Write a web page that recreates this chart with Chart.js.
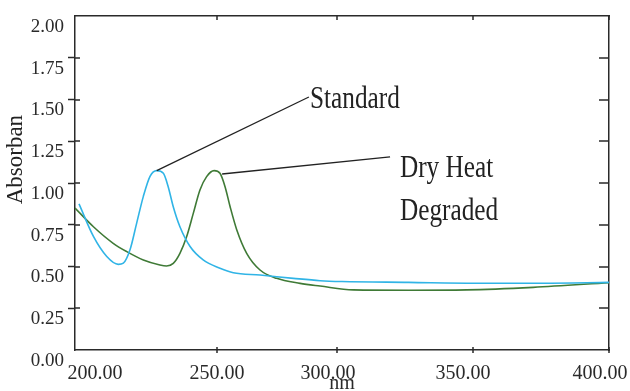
<!DOCTYPE html>
<html>
<head>
<meta charset="utf-8">
<script src="https://cdn.jsdelivr.net/npm/chart.js@4.4.1/dist/chart.umd.min.js"></script>
<style>
  body { margin: 0; background: #fff; }
  #wrap { width: 630px; height: 391px; }
</style>
</head>
<body>
<div id="wrap"><canvas id="spec"></canvas></div>
<script>
// Standard curve (nm, absorbance)
const stdX = [201.5, 206.9, 211.9, 216.2, 218.1, 220.6, 223.1, 225.6, 228.1, 230.6, 233.1, 234.9, 236.8, 239.3, 243.1, 248.0, 254.3, 259.3, 269.3, 281.8, 291.8, 300, 325, 350, 375, 400];
const stdY = [0.875, 0.68, 0.56, 0.513, 0.52, 0.60, 0.76, 0.92, 1.04, 1.074, 1.058, 0.978, 0.858, 0.738, 0.62, 0.54, 0.49, 0.463, 0.449, 0.429, 0.415, 0.41, 0.405, 0.40, 0.40, 0.405];

// Dry heat degraded curve
const dryX = [200, 206.9, 214.3, 219.4, 225.6, 231.8, 234.3, 236.8, 239.3, 241.8, 244.3, 246.8, 249.3, 252.1, 254.3, 256.2, 258.1, 260.6, 264.3, 269.3, 275.5, 284.3, 291.8, 304.2, 325, 346.7, 371.6, 400];
const dryY = [0.85, 0.738, 0.639, 0.589, 0.539, 0.509, 0.503, 0.519, 0.579, 0.678, 0.818, 0.958, 1.038, 1.074, 1.058, 0.978, 0.858, 0.719, 0.579, 0.479, 0.429, 0.399, 0.383, 0.36, 0.358, 0.36, 0.375, 0.403];

// x axis: printed labels, where they sit, and where the tick marks are
const xTickLabels = ["200.00", "250.00", "300.00", "350.00", "400.00"];
const xLabelAt = [207.5, 253.2, 294.8, 345.3, 396.6];
const xMarkAt = [253.2, 298.1, 349.1, 400];

// callouts: [text lines, anchor on curve, line end, text position]
const callouts = [
  { lines: ["Standard"], from: [230.6, 1.074], to: [287.6, 1.515], text: [288.0, 1.449] },
  { lines: ["Dry Heat", "Degraded"], from: [255.1, 1.054], to: [318.0, 1.156], text: [321.7, 1.036] },
];

const yTitle = "Absorban";
const xTitle = "nm";

const ink = "#2a2a2a";
const serif = "'Liberation Serif', 'Times New Roman', serif";

function pts(xs, ys) {
  return xs.map((x, i) => ({ x: x, y: ys[i] }));
}

const framePlugin = {
  id: "frame",
  afterDraw(chart) {
    const ctx = chart.ctx;
    const a = chart.chartArea;
    const x = chart.scales.x;
    const y = chart.scales.y;
    ctx.save();
    ctx.strokeStyle = ink;
    ctx.lineWidth = 1.5;
    ctx.beginPath();
    xMarkAt.forEach((v) => {
      const px = Math.round(x.getPixelForValue(v));
      ctx.moveTo(px, a.top);
      ctx.lineTo(px, a.top + 4);
      ctx.moveTo(px, a.bottom - 3);
      ctx.lineTo(px, a.bottom + 3);
    });
    y.ticks.forEach((t) => {
      if (t.value <= 0 || t.value >= 2) return;
      const py = Math.round(y.getPixelForValue(t.value));
      ctx.moveTo(a.right - 10, py);
      ctx.lineTo(a.right, py);
      ctx.moveTo(a.left, py);
      ctx.lineTo(a.left + 5, py);
    });
    ctx.stroke();

    // callouts
    ctx.lineWidth = 1.3;
    ctx.strokeStyle = "#222";
    ctx.fillStyle = "#222";
    ctx.font = "32px " + serif;
    ctx.textBaseline = "alphabetic";
    callouts.forEach((c) => {
      ctx.beginPath();
      ctx.moveTo(x.getPixelForValue(c.from[0]), y.getPixelForValue(c.from[1]));
      ctx.lineTo(x.getPixelForValue(c.to[0]), y.getPixelForValue(c.to[1]));
      ctx.stroke();
      const tx = x.getPixelForValue(c.text[0]);
      const ty = y.getPixelForValue(c.text[1]);
      c.lines.forEach((s, i) => {
        ctx.save();
        ctx.translate(tx, ty + i * 43);
        ctx.scale(0.79, 1);
        ctx.fillText(s, 0, 0);
        ctx.restore();
      });
    });

    // y axis title
    ctx.save();
    ctx.translate(a.left - 59, y.getPixelForValue(1.14));
    ctx.rotate(-Math.PI / 2);
    ctx.font = "23px " + serif;
    ctx.textAlign = "center";
    ctx.textBaseline = "middle";
    ctx.fillText(yTitle, 0, 0);
    ctx.restore();
    ctx.restore();
  },
};

new Chart(document.getElementById("spec"), {
  type: "line",
  data: {
    datasets: [
      {
        label: "Standard",
        data: pts(stdX, stdY),
        borderColor: "#30b4e6",
        borderWidth: 1.6,
        pointRadius: 0,
        cubicInterpolationMode: "monotone",
        fill: false,
      },
      {
        label: "Dry Heat Degraded",
        data: pts(dryX, dryY),
        borderColor: "#3f7a36",
        borderWidth: 1.6,
        pointRadius: 0,
        cubicInterpolationMode: "monotone",
        fill: false,
      },
    ],
  },
  options: {
    responsive: true,
    maintainAspectRatio: false,
    animation: false,
    layout: { padding: 0 },
    plugins: {
      legend: { display: false },
      tooltip: { enabled: false },
    },
    scales: {
      x: {
        type: "linear",
        position: "bottom",
        min: 200,
        max: 400,
        afterBuildTicks: (scale) => {
          scale.ticks = xLabelAt.map((v) => ({ value: v }));
        },
        afterFit: (scale) => {
          scale.height = 41;
          scale.paddingLeft = 0;
          scale.paddingRight = 0;
        },
        ticks: {
          autoSkip: false,
          maxRotation: 0,
          padding: 12,
          color: ink,
          font: { family: serif, size: 20 },
          callback: (val, i) => xTickLabels[i],
        },
        grid: { display: true, drawOnChartArea: false, drawTicks: false },
        border: { display: true, color: ink, width: 1.5 },
        title: {
          display: true,
          text: xTitle,
          color: ink,
          font: { family: serif, size: 20 },
          padding: { top: 0, bottom: -5 },
        },
      },
      x2: {
        type: "linear",
        position: "top",
        min: 200,
        max: 400,
        afterBuildTicks: (scale) => {
          scale.ticks = xMarkAt.map((v) => ({ value: v }));
        },
        afterFit: (scale) => {
          scale.height = 16;
          scale.paddingLeft = 0;
          scale.paddingRight = 0;
        },
        ticks: { display: false },
        grid: { display: true, drawOnChartArea: false, drawTicks: false },
        border: { display: true, color: ink, width: 1.5 },
      },
      y: {
        type: "linear",
        position: "left",
        min: 0,
        max: 2,
        afterFit: (scale) => {
          scale.width = 75;
          scale.paddingTop = 0;
          scale.paddingBottom = 0;
        },
        ticks: {
          stepSize: 0.25,
          padding: 4,
          labelOffset: 11,
          color: ink,
          font: { family: serif, size: 19 },
          callback: (v) => v.toFixed(2),
        },
        grid: {
          drawOnChartArea: false,
          tickLength: 7,
          tickWidth: 1.5,
          tickColor: (c) =>
            c.tick && (c.tick.value <= 0 || c.tick.value >= 2) ? "rgba(0,0,0,0)" : ink,
        },
        border: { display: true, color: ink, width: 1.5 },
      },
      y2: {
        type: "linear",
        position: "right",
        min: 0,
        max: 2,
        afterFit: (scale) => {
          scale.width = 21;
        },
        ticks: { display: false, stepSize: 0.25 },
        grid: { display: true, drawOnChartArea: false, drawTicks: false },
        border: { display: true, color: ink, width: 1.5 },
      },
    },
  },
  plugins: [framePlugin],
});
</script>
</body>
</html>
